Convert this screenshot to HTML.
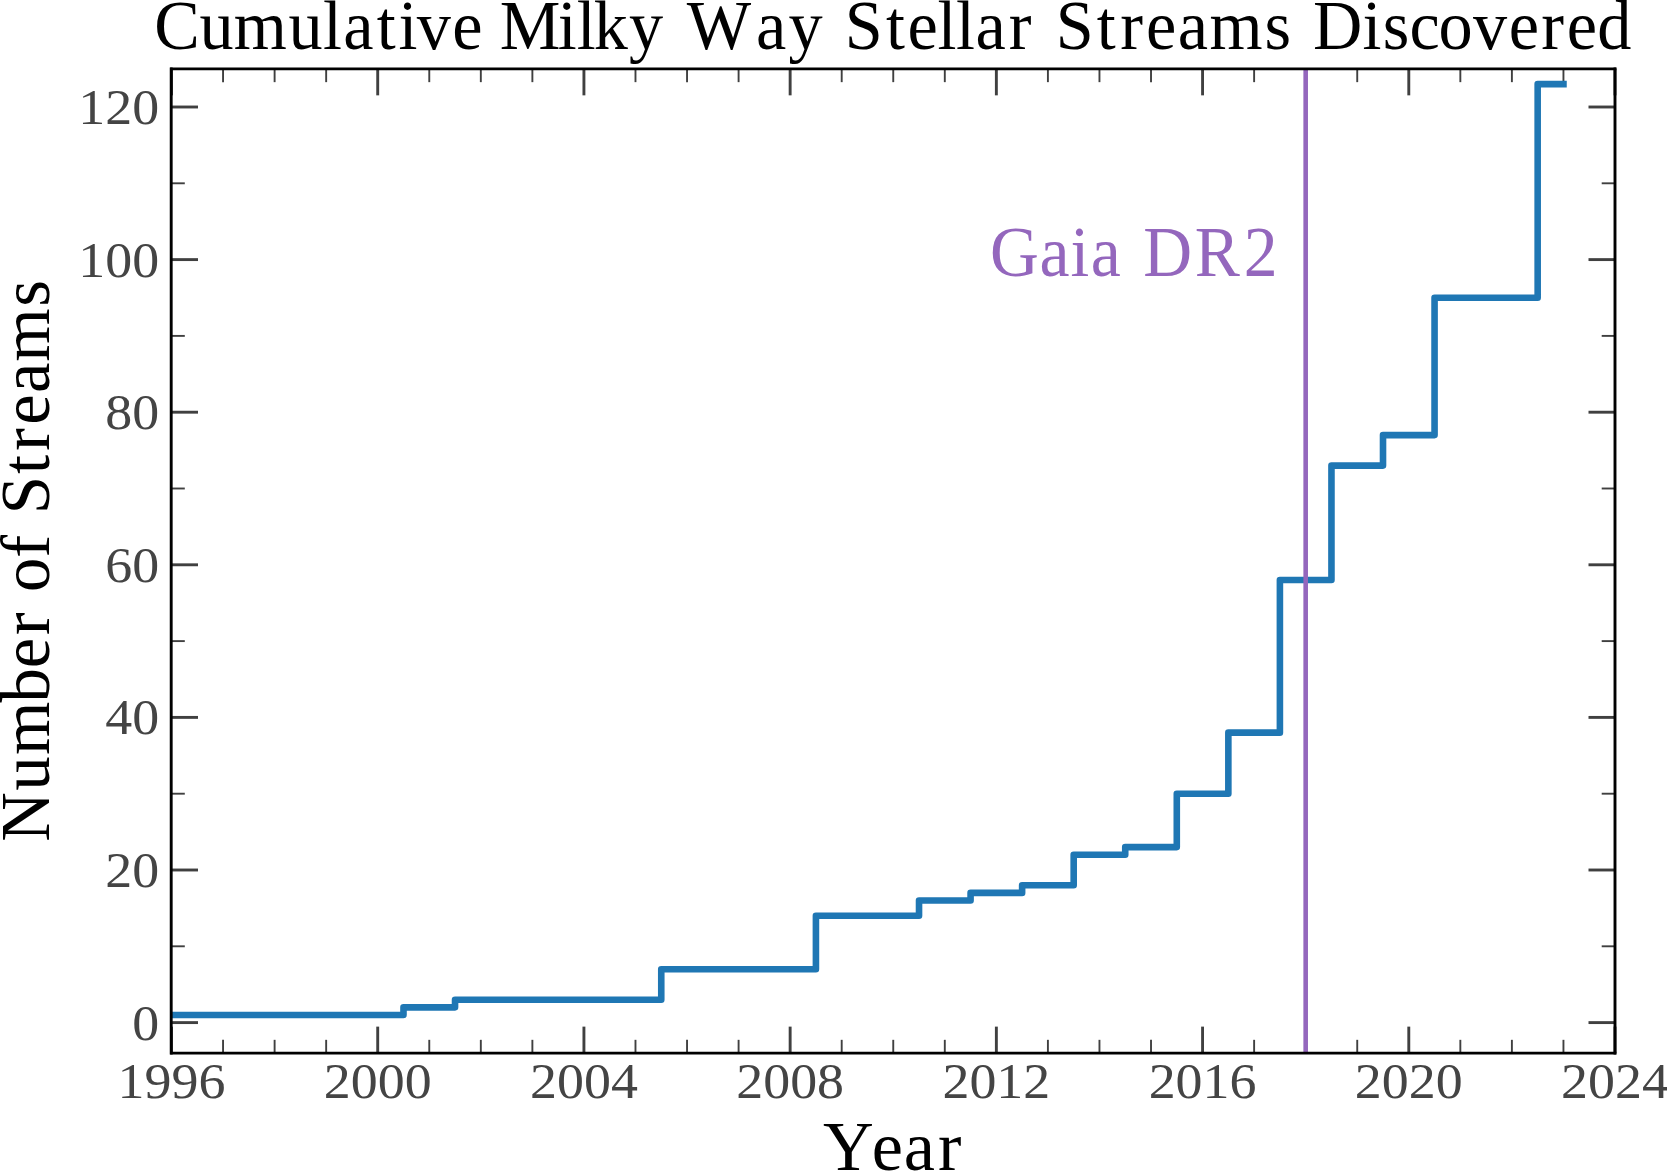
<!DOCTYPE html>
<html><head><meta charset="utf-8"><title>Cumulative Milky Way Stellar Streams Discovered</title>
<style>
html,body{margin:0;padding:0;background:#fff;}
body{width:1667px;height:1171px;overflow:hidden;}
svg{display:block;}
text{font-family:"Liberation Serif","DejaVu Serif",serif;}
</style></head>
<body>
<svg width="1667" height="1171" viewBox="0 0 1667 1171">
<rect x="0" y="0" width="1667" height="1171" fill="#fff"/>
<defs><clipPath id="ax"><rect x="171.50" y="68.85" width="1443.50" height="984.27"/></clipPath></defs>

<text transform="scale(0.9520,1)" x="1040.06 1091.85 1124.44 1145.74 1177.25 1200.99 1254.94 1306.46" y="275.9" font-size="71" fill="#9467bd">Gaia DR2</text>
<g stroke="#404040" stroke-linecap="butt">
<line x1="171.50" y1="1053.12" x2="171.50" y2="1026.62" stroke-width="2.9"/>
<line x1="171.50" y1="68.85" x2="171.50" y2="95.35" stroke-width="2.9"/>
<line x1="223.05" y1="1053.12" x2="223.05" y2="1039.82" stroke-width="1.9"/>
<line x1="223.05" y1="68.85" x2="223.05" y2="82.15" stroke-width="1.9"/>
<line x1="274.61" y1="1053.12" x2="274.61" y2="1039.82" stroke-width="1.9"/>
<line x1="274.61" y1="68.85" x2="274.61" y2="82.15" stroke-width="1.9"/>
<line x1="326.16" y1="1053.12" x2="326.16" y2="1039.82" stroke-width="1.9"/>
<line x1="326.16" y1="68.85" x2="326.16" y2="82.15" stroke-width="1.9"/>
<line x1="377.71" y1="1053.12" x2="377.71" y2="1026.62" stroke-width="2.9"/>
<line x1="377.71" y1="68.85" x2="377.71" y2="95.35" stroke-width="2.9"/>
<line x1="429.27" y1="1053.12" x2="429.27" y2="1039.82" stroke-width="1.9"/>
<line x1="429.27" y1="68.85" x2="429.27" y2="82.15" stroke-width="1.9"/>
<line x1="480.82" y1="1053.12" x2="480.82" y2="1039.82" stroke-width="1.9"/>
<line x1="480.82" y1="68.85" x2="480.82" y2="82.15" stroke-width="1.9"/>
<line x1="532.38" y1="1053.12" x2="532.38" y2="1039.82" stroke-width="1.9"/>
<line x1="532.38" y1="68.85" x2="532.38" y2="82.15" stroke-width="1.9"/>
<line x1="583.93" y1="1053.12" x2="583.93" y2="1026.62" stroke-width="2.9"/>
<line x1="583.93" y1="68.85" x2="583.93" y2="95.35" stroke-width="2.9"/>
<line x1="635.48" y1="1053.12" x2="635.48" y2="1039.82" stroke-width="1.9"/>
<line x1="635.48" y1="68.85" x2="635.48" y2="82.15" stroke-width="1.9"/>
<line x1="687.04" y1="1053.12" x2="687.04" y2="1039.82" stroke-width="1.9"/>
<line x1="687.04" y1="68.85" x2="687.04" y2="82.15" stroke-width="1.9"/>
<line x1="738.59" y1="1053.12" x2="738.59" y2="1039.82" stroke-width="1.9"/>
<line x1="738.59" y1="68.85" x2="738.59" y2="82.15" stroke-width="1.9"/>
<line x1="790.14" y1="1053.12" x2="790.14" y2="1026.62" stroke-width="2.9"/>
<line x1="790.14" y1="68.85" x2="790.14" y2="95.35" stroke-width="2.9"/>
<line x1="841.70" y1="1053.12" x2="841.70" y2="1039.82" stroke-width="1.9"/>
<line x1="841.70" y1="68.85" x2="841.70" y2="82.15" stroke-width="1.9"/>
<line x1="893.25" y1="1053.12" x2="893.25" y2="1039.82" stroke-width="1.9"/>
<line x1="893.25" y1="68.85" x2="893.25" y2="82.15" stroke-width="1.9"/>
<line x1="944.80" y1="1053.12" x2="944.80" y2="1039.82" stroke-width="1.9"/>
<line x1="944.80" y1="68.85" x2="944.80" y2="82.15" stroke-width="1.9"/>
<line x1="996.36" y1="1053.12" x2="996.36" y2="1026.62" stroke-width="2.9"/>
<line x1="996.36" y1="68.85" x2="996.36" y2="95.35" stroke-width="2.9"/>
<line x1="1047.91" y1="1053.12" x2="1047.91" y2="1039.82" stroke-width="1.9"/>
<line x1="1047.91" y1="68.85" x2="1047.91" y2="82.15" stroke-width="1.9"/>
<line x1="1099.46" y1="1053.12" x2="1099.46" y2="1039.82" stroke-width="1.9"/>
<line x1="1099.46" y1="68.85" x2="1099.46" y2="82.15" stroke-width="1.9"/>
<line x1="1151.02" y1="1053.12" x2="1151.02" y2="1039.82" stroke-width="1.9"/>
<line x1="1151.02" y1="68.85" x2="1151.02" y2="82.15" stroke-width="1.9"/>
<line x1="1202.57" y1="1053.12" x2="1202.57" y2="1026.62" stroke-width="2.9"/>
<line x1="1202.57" y1="68.85" x2="1202.57" y2="95.35" stroke-width="2.9"/>
<line x1="1254.12" y1="1053.12" x2="1254.12" y2="1039.82" stroke-width="1.9"/>
<line x1="1254.12" y1="68.85" x2="1254.12" y2="82.15" stroke-width="1.9"/>
<line x1="1305.68" y1="1053.12" x2="1305.68" y2="1039.82" stroke-width="1.9"/>
<line x1="1305.68" y1="68.85" x2="1305.68" y2="82.15" stroke-width="1.9"/>
<line x1="1357.23" y1="1053.12" x2="1357.23" y2="1039.82" stroke-width="1.9"/>
<line x1="1357.23" y1="68.85" x2="1357.23" y2="82.15" stroke-width="1.9"/>
<line x1="1408.79" y1="1053.12" x2="1408.79" y2="1026.62" stroke-width="2.9"/>
<line x1="1408.79" y1="68.85" x2="1408.79" y2="95.35" stroke-width="2.9"/>
<line x1="1460.34" y1="1053.12" x2="1460.34" y2="1039.82" stroke-width="1.9"/>
<line x1="1460.34" y1="68.85" x2="1460.34" y2="82.15" stroke-width="1.9"/>
<line x1="1511.89" y1="1053.12" x2="1511.89" y2="1039.82" stroke-width="1.9"/>
<line x1="1511.89" y1="68.85" x2="1511.89" y2="82.15" stroke-width="1.9"/>
<line x1="1563.45" y1="1053.12" x2="1563.45" y2="1039.82" stroke-width="1.9"/>
<line x1="1563.45" y1="68.85" x2="1563.45" y2="82.15" stroke-width="1.9"/>
<line x1="1615.00" y1="1053.12" x2="1615.00" y2="1026.62" stroke-width="2.9"/>
<line x1="1615.00" y1="68.85" x2="1615.00" y2="95.35" stroke-width="2.9"/>
<line x1="171.50" y1="1022.60" x2="198.00" y2="1022.60" stroke-width="2.9"/>
<line x1="1615.00" y1="1022.60" x2="1588.50" y2="1022.60" stroke-width="2.9"/>
<line x1="171.50" y1="946.30" x2="184.80" y2="946.30" stroke-width="1.9"/>
<line x1="1615.00" y1="946.30" x2="1601.70" y2="946.30" stroke-width="1.9"/>
<line x1="171.50" y1="870.00" x2="198.00" y2="870.00" stroke-width="2.9"/>
<line x1="1615.00" y1="870.00" x2="1588.50" y2="870.00" stroke-width="2.9"/>
<line x1="171.50" y1="793.70" x2="184.80" y2="793.70" stroke-width="1.9"/>
<line x1="1615.00" y1="793.70" x2="1601.70" y2="793.70" stroke-width="1.9"/>
<line x1="171.50" y1="717.40" x2="198.00" y2="717.40" stroke-width="2.9"/>
<line x1="1615.00" y1="717.40" x2="1588.50" y2="717.40" stroke-width="2.9"/>
<line x1="171.50" y1="641.10" x2="184.80" y2="641.10" stroke-width="1.9"/>
<line x1="1615.00" y1="641.10" x2="1601.70" y2="641.10" stroke-width="1.9"/>
<line x1="171.50" y1="564.80" x2="198.00" y2="564.80" stroke-width="2.9"/>
<line x1="1615.00" y1="564.80" x2="1588.50" y2="564.80" stroke-width="2.9"/>
<line x1="171.50" y1="488.50" x2="184.80" y2="488.50" stroke-width="1.9"/>
<line x1="1615.00" y1="488.50" x2="1601.70" y2="488.50" stroke-width="1.9"/>
<line x1="171.50" y1="412.20" x2="198.00" y2="412.20" stroke-width="2.9"/>
<line x1="1615.00" y1="412.20" x2="1588.50" y2="412.20" stroke-width="2.9"/>
<line x1="171.50" y1="335.90" x2="184.80" y2="335.90" stroke-width="1.9"/>
<line x1="1615.00" y1="335.90" x2="1601.70" y2="335.90" stroke-width="1.9"/>
<line x1="171.50" y1="259.60" x2="198.00" y2="259.60" stroke-width="2.9"/>
<line x1="1615.00" y1="259.60" x2="1588.50" y2="259.60" stroke-width="2.9"/>
<line x1="171.50" y1="183.30" x2="184.80" y2="183.30" stroke-width="1.9"/>
<line x1="1615.00" y1="183.30" x2="1601.70" y2="183.30" stroke-width="1.9"/>
<line x1="171.50" y1="107.00" x2="198.00" y2="107.00" stroke-width="2.9"/>
<line x1="1615.00" y1="107.00" x2="1588.50" y2="107.00" stroke-width="2.9"/>
</g>
<g clip-path="url(#ax)">
<path d="M145.72,1014.97 H403.49 V1007.34 H455.04 V999.71 H661.26 V969.19 H815.92 V915.78 H919.03 V900.52 H970.58 V892.89 H1022.13 V885.26 H1073.69 V854.74 H1125.24 V847.11 H1176.79 V793.70 H1228.35 V732.66 H1279.90 V580.06 H1331.46 V465.61 H1383.01 V435.09 H1434.56 V297.75 H1537.67 V84.11 H1563.45" fill="none" stroke="#1f77b4" stroke-width="6.6" stroke-linejoin="round" stroke-linecap="square"/>
<line x1="1305.68" y1="68.85" x2="1305.68" y2="1053.12" stroke="#9467bd" stroke-width="4.6"/>
</g>
<g stroke="#000" stroke-linecap="square" fill="none">
<line x1="171.20" y1="68.85" x2="171.20" y2="1053.12" stroke-width="2.9"/>
<line x1="1615.00" y1="68.85" x2="1615.00" y2="1053.12" stroke-width="2.9"/>
<line x1="171.50" y1="68.85" x2="1615.00" y2="68.85" stroke-width="2.6"/>
<line x1="171.50" y1="1053.12" x2="1615.00" y2="1053.12" stroke-width="2.6"/>
</g>
<g fill="#444444" font-size="50">
<text x="171.50" y="1098.3" text-anchor="middle" textLength="107.84" lengthAdjust="spacingAndGlyphs">1996</text>
<text x="377.71" y="1098.3" text-anchor="middle" textLength="107.84" lengthAdjust="spacingAndGlyphs">2000</text>
<text x="583.93" y="1098.3" text-anchor="middle" textLength="107.84" lengthAdjust="spacingAndGlyphs">2004</text>
<text x="790.14" y="1098.3" text-anchor="middle" textLength="107.84" lengthAdjust="spacingAndGlyphs">2008</text>
<text x="996.36" y="1098.3" text-anchor="middle" textLength="107.84" lengthAdjust="spacingAndGlyphs">2012</text>
<text x="1202.57" y="1098.3" text-anchor="middle" textLength="107.84" lengthAdjust="spacingAndGlyphs">2016</text>
<text x="1408.79" y="1098.3" text-anchor="middle" textLength="107.84" lengthAdjust="spacingAndGlyphs">2020</text>
<text x="1615.00" y="1098.3" text-anchor="middle" textLength="107.84" lengthAdjust="spacingAndGlyphs">2024</text>
<text x="132.29" y="1039.60" textLength="26.96" lengthAdjust="spacingAndGlyphs">0</text>
<text x="105.33" y="887.00" textLength="53.92" lengthAdjust="spacingAndGlyphs">20</text>
<text x="105.33" y="734.40" textLength="53.92" lengthAdjust="spacingAndGlyphs">40</text>
<text x="105.33" y="581.80" textLength="53.92" lengthAdjust="spacingAndGlyphs">60</text>
<text x="105.33" y="429.20" textLength="53.92" lengthAdjust="spacingAndGlyphs">80</text>
<text x="78.37" y="276.60" textLength="80.88" lengthAdjust="spacingAndGlyphs">100</text>
<text x="78.37" y="124.00" textLength="80.88" lengthAdjust="spacingAndGlyphs">120</text>
</g>
<text transform="scale(0.9751,1)" x="158.26 204.56 239.64 295.94 331.16 352.03 386.41 408.57 427.48 463.90 494.97 512.53 572.04 591.50 609.05 645.17 680.17 704.41 775.43 808.69 843.69 866.22 908.51 930.67 961.56 980.33 1000.53 1034.61 1057.92 1082.76 1124.64 1148.96 1175.32 1207.95 1240.51 1296.84 1324.08 1346.51 1397.24 1417.96 1445.49 1475.32 1510.50 1547.23 1580.71 1606.71 1638.16" y="49" font-size="70" fill="#000">Cumulative Milky Way Stellar Streams Discovered</text>
<text transform="scale(1.0045,1)" x="819.43 867.90 899.65 933.70" y="1170.3" font-size="70" fill="#000">Year</text>
<text transform="translate(48.8,0) rotate(-90) scale(0.9806,1)" x="-858.38 -806.41 -769.86 -716.49 -681.60 -647.93 -624.62 -603.77 -568.91 -545.60 -524.52 -483.39 -459.93 -433.13 -400.69 -368.93 -312.79" y="0" font-size="70" fill="#000">Number of Streams</text>
</svg>
</body></html>
